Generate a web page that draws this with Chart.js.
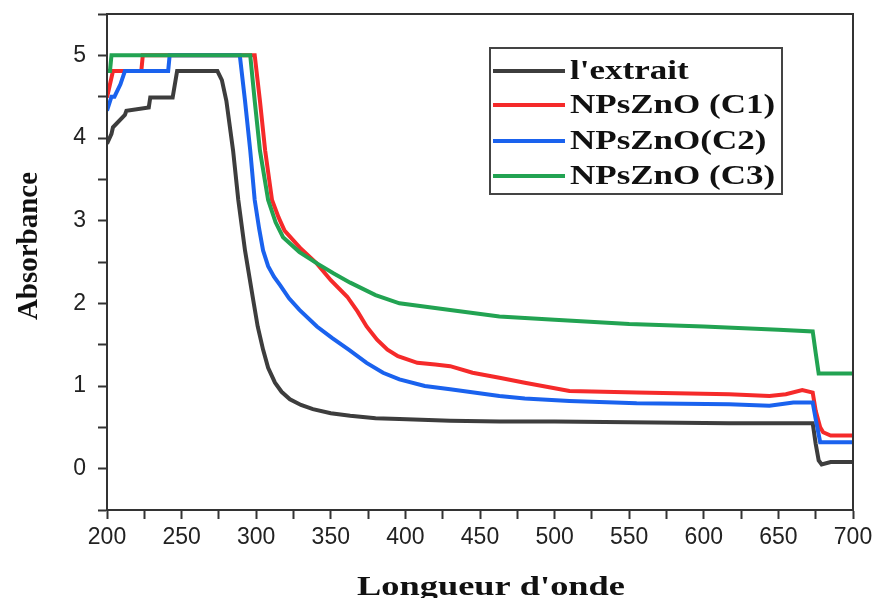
<!DOCTYPE html>
<html>
<head>
<meta charset="utf-8">
<script src="https://cdn.jsdelivr.net/npm/chart.js@4/dist/chart.umd.min.js"></script>
<style>
  html, body { margin: 0; padding: 0; background: #fff; }
  #wrap { width: 875px; height: 598px; }
</style>
</head>
<body>
<div id="wrap"><canvas id="chart" width="875" height="598"></canvas></div>
<script>
// valeurs (longueur d'onde en nm, absorbance)
const labels = ["l'extrait", 'NPsZnO (C1)', 'NPsZnO(C2)', 'NPsZnO (C3)'];
const colors = ['#3d3d3d', '#f52a2a', '#1a62ee', '#22a352'];

const extraitX = [200, 203, 204, 212, 213, 228, 229, 244, 247, 274, 277, 280, 284.5, 288, 292.5, 298, 301, 304.6, 308, 312.6, 317, 322.6, 330, 338, 350, 363, 380, 396, 430, 463, 500, 550, 617, 673, 675, 677, 679, 685, 700];
const extraitY = [3.93, 4.05, 4.13, 4.28, 4.33, 4.37, 4.49, 4.49, 4.81, 4.81, 4.7, 4.45, 3.85, 3.25, 2.64, 2.04, 1.72, 1.44, 1.22, 1.04, 0.93, 0.84, 0.77, 0.72, 0.67, 0.64, 0.61, 0.6, 0.58, 0.57, 0.57, 0.56, 0.55, 0.55, 0.3, 0.1, 0.05, 0.08, 0.08];

const c1X = [200, 202, 204, 223, 224, 299, 302.5, 306, 310.6, 315, 319, 330, 340.7, 350, 361, 368, 374, 381, 388, 395, 408, 420, 430, 445, 463, 480, 510, 555, 617, 644, 655, 666, 673, 675, 678, 680, 685, 700];
const c1Y = [4.49, 4.65, 4.81, 4.81, 5.0, 5.0, 4.45, 3.85, 3.25, 3.04, 2.88, 2.66, 2.48, 2.28, 2.08, 1.9, 1.72, 1.56, 1.44, 1.36, 1.28, 1.26, 1.24, 1.16, 1.1, 1.04, 0.94, 0.92, 0.9, 0.88, 0.9, 0.95, 0.92, 0.7, 0.5, 0.44, 0.4, 0.4];

const c2X = [200, 203, 205, 209, 212, 241, 242, 289, 292.5, 296, 299, 302, 304.6, 308, 312, 316, 322, 329, 340.7, 351, 362, 374, 385, 396, 413, 430, 463, 480, 510, 555, 617, 644, 660, 673, 675, 678, 700];
const c2Y = [4.33, 4.5, 4.5, 4.65, 4.81, 4.81, 5.0, 5.0, 4.45, 3.85, 3.25, 2.9, 2.64, 2.45, 2.32, 2.22, 2.06, 1.92, 1.72, 1.58, 1.44, 1.28, 1.16, 1.08, 1.0, 0.96, 0.88, 0.85, 0.82, 0.79, 0.78, 0.76, 0.8, 0.8, 0.6, 0.32, 0.32];

const c3X = [200, 202, 203, 296, 299, 302.5, 308, 313, 318, 329, 341, 352, 363, 380, 396, 430, 463, 500, 550, 600, 650, 673, 675, 677, 680, 700];
const c3Y = [4.81, 4.81, 5.0, 5.0, 4.45, 3.85, 3.25, 2.98, 2.8, 2.62, 2.48, 2.36, 2.25, 2.1, 2.0, 1.92, 1.84, 1.8, 1.75, 1.72, 1.68, 1.66, 1.4, 1.15, 1.15, 1.15];

const seriesX = [extraitX, c1X, c2X, c3X];
const seriesY = [extraitY, c1Y, c2Y, c3Y];

const serif = "'Liberation Serif', 'Times New Roman', serif";
const sans = "'Liberation Sans', Arial, sans-serif";

// cadre, titres d'axes et légende
const decor = {
  id: 'decor',
  afterDraw(chart) {
    const { ctx, chartArea: a } = chart;
    ctx.save();
    ctx.strokeStyle = '#333';
    ctx.lineWidth = 2;
    ctx.strokeRect(a.left, a.top, a.right - a.left, a.bottom - a.top);

    ctx.fillStyle = '#111';
    ctx.font = 'bold 28px ' + serif;
    ctx.textAlign = 'center';
    ctx.textBaseline = 'alphabetic';
    ctx.save();
    ctx.translate(491, 595);
    ctx.scale(1.3, 1);
    ctx.fillText("Longueur d'onde", 0, 0);
    ctx.restore();

    ctx.save();
    ctx.translate(37, 246);
    ctx.rotate(-Math.PI / 2);
    ctx.font = 'bold 29px ' + serif;
    ctx.fillText('Absorbance', 0, 0);
    ctx.restore();

    // légende
    ctx.strokeStyle = '#444';
    ctx.lineWidth = 2;
    ctx.strokeRect(490, 48, 292, 146);
    const rows = [71, 105, 141, 176];
    ctx.textAlign = 'left';
    ctx.textBaseline = 'middle';
    ctx.font = 'bold 28px ' + serif;
    labels.forEach((lab, i) => {
      ctx.strokeStyle = colors[i];
      ctx.lineWidth = 4;
      ctx.beginPath();
      ctx.moveTo(493, rows[i]);
      ctx.lineTo(565, rows[i]);
      ctx.stroke();
      ctx.save();
      ctx.translate(570, rows[i] + 1);
      ctx.scale(1.25, 1);
      ctx.fillStyle = '#111';
      ctx.fillText(lab, 0, 0);
      ctx.restore();
    });
    ctx.restore();
  }
};

const datasets = labels.map((lab, i) => ({
  label: lab,
  data: seriesX[i].map((x, j) => ({ x, y: seriesY[i][j] })),
  borderColor: colors[i],
  backgroundColor: colors[i],
  borderWidth: 4,
  pointRadius: 0,
  tension: 0,
  order: 3 - i
}));

new Chart(document.getElementById('chart'), {
  type: 'line',
  data: { datasets },
  options: {
    responsive: false,
    animation: false,
    layout: { padding: { top: 14, right: 22, left: 0, bottom: 0 } },
    plugins: { legend: { display: false }, tooltip: { enabled: false } },
    scales: {
      x: {
        type: 'linear',
        min: 200, max: 700,
        afterFit: s => { s.height = 88; s.paddingLeft = 0; s.paddingRight = 0; },
        border: { display: true, color: '#333', width: 2 },
        grid: { drawOnChartArea: false, drawTicks: true, tickLength: 9, tickColor: '#333', tickWidth: 2 },
        ticks: {
          stepSize: 25,
          autoSkip: false,
          maxRotation: 0,
          padding: 5,
          color: '#222',
          font: { family: sans, size: 23 },
          callback: v => (v % 50 === 0 ? String(v) : '')
        }
      },
      y: {
        min: -0.5, max: 5.5,
        afterFit: s => { s.width = 107; s.paddingTop = 0; s.paddingBottom = 0; },
        border: { display: true, color: '#333', width: 2 },
        grid: { drawOnChartArea: false, drawTicks: true, tickLength: 9, tickColor: '#333', tickWidth: 2 },
        ticks: {
          stepSize: 0.5,
          autoSkip: false,
          padding: 12,
          color: '#222',
          font: { family: sans, size: 23 },
          callback: v => (Number.isInteger(v) ? String(v) : '')
        }
      }
    }
  },
  plugins: [decor]
});
</script>
</body>
</html>
